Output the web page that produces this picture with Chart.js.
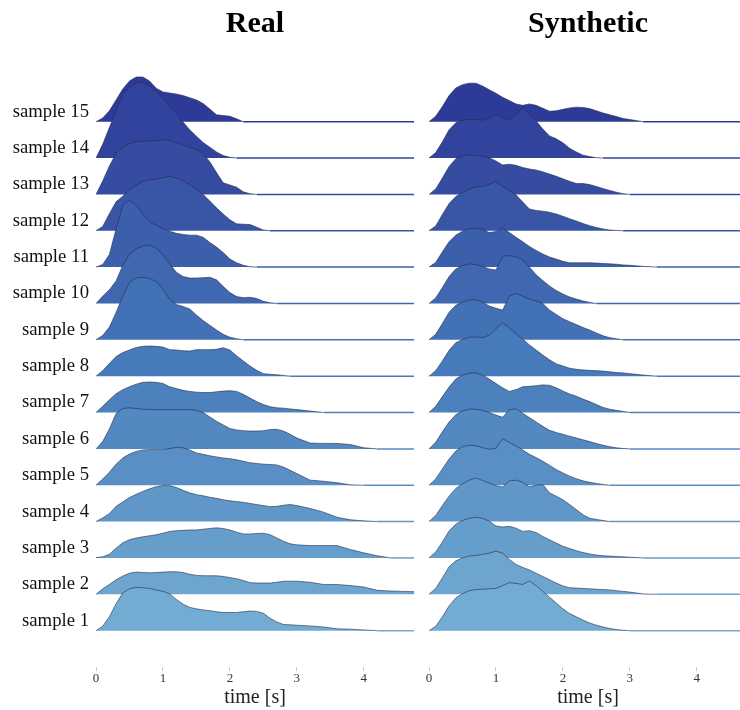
<!DOCTYPE html>
<html>
<head>
<meta charset="utf-8">
<title>Ridgelines</title>
<script src="https://cdn.jsdelivr.net/npm/chart.js@4.4.1/dist/chart.umd.min.js"></script>
<style>
  html, body { margin: 0; padding: 0; background: #fff; overflow: hidden; }
  #wrap { position: relative; width: 740px; height: 710px; overflow: hidden; }
  #realChart { position: absolute; left: 0; top: 0; }
  #synthChart { position: absolute; left: 420px; top: 0; }
</style>
</head>
<body>
<div id="wrap">
  <canvas id="realChart" width="420" height="710"></canvas>
  <canvas id="synthChart" width="327" height="710"></canvas>
</div>
<script>
// time grid shared by every ridge (seconds)
const timeGrid = [0, 0.1, 0.2, 0.3, 0.4, 0.5, 0.6, 0.7, 0.8, 0.9,
  1.0, 1.1, 1.2, 1.3, 1.4, 1.5, 1.6, 1.7, 1.8, 1.9,
  2.0, 2.1, 2.2, 2.3, 2.4, 2.5, 2.6, 2.7, 2.8, 2.9,
  3.0, 3.2, 3.4, 3.6, 3.8, 4.0, 4.2, 4.4, 4.6, 4.8];

const sampleNames = ['sample 1', 'sample 2', 'sample 3', 'sample 4', 'sample 5',
  'sample 6', 'sample 7', 'sample 8', 'sample 9', 'sample 10',
  'sample 11', 'sample 12', 'sample 13', 'sample 14', 'sample 15'];

const xTicks = [0, 1, 2, 3, 4];

// densities, one value per timeGrid point (height in ridge rows)
const real01 = [0, 0.12, 0.38, 0.74, 1.04, 1.15, 1.19, 1.18, 1.16, 1.12, 1.08, 1.01, 0.86, 0.73, 0.64, 0.6, 0.57, 0.55, 0.52, 0.5, 0.5, 0.5, 0.52, 0.54, 0.53, 0.48, 0.34, 0.24, 0.17, 0.16, 0.15, 0.13, 0.1, 0.05, 0.04, 0.02, 0, 0, 0, 0];
const real02 = [0, 0.15, 0.27, 0.4, 0.5, 0.58, 0.61, 0.6, 0.59, 0.6, 0.61, 0.62, 0.62, 0.6, 0.55, 0.52, 0.51, 0.51, 0.51, 0.49, 0.46, 0.43, 0.38, 0.32, 0.31, 0.31, 0.31, 0.33, 0.36, 0.36, 0.36, 0.33, 0.27, 0.27, 0.24, 0.2, 0.11, 0.09, 0.08, 0.07];
const real03 = [0.01, 0.03, 0.1, 0.27, 0.42, 0.5, 0.55, 0.58, 0.61, 0.64, 0.68, 0.73, 0.75, 0.76, 0.77, 0.77, 0.79, 0.81, 0.83, 0.81, 0.77, 0.71, 0.66, 0.66, 0.67, 0.68, 0.64, 0.55, 0.46, 0.39, 0.36, 0.34, 0.34, 0.34, 0.23, 0.14, 0.06, 0, 0, 0];
const real04 = [0, 0.1, 0.22, 0.42, 0.54, 0.66, 0.75, 0.83, 0.9, 0.96, 0.99, 0.99, 0.94, 0.86, 0.79, 0.74, 0.71, 0.67, 0.64, 0.6, 0.57, 0.55, 0.53, 0.5, 0.47, 0.44, 0.41, 0.42, 0.45, 0.47, 0.44, 0.36, 0.26, 0.12, 0.05, 0.02, 0, 0, 0, 0];
const real05 = [0, 0.17, 0.36, 0.58, 0.75, 0.86, 0.93, 0.97, 0.98, 0.98, 0.98, 1.01, 1.04, 1.03, 0.97, 0.89, 0.85, 0.81, 0.78, 0.75, 0.73, 0.7, 0.66, 0.62, 0.6, 0.58, 0.57, 0.56, 0.5, 0.41, 0.32, 0.14, 0.11, 0.07, 0.01, 0, 0, 0, 0, 0];
const real06 = [0, 0.2, 0.55, 0.97, 1.11, 1.13, 1.11, 1.09, 1.08, 1.08, 1.08, 1.08, 1.08, 1.08, 1.08, 1.06, 1.0, 0.88, 0.76, 0.66, 0.56, 0.52, 0.5, 0.49, 0.49, 0.5, 0.53, 0.54, 0.49, 0.4, 0.3, 0.16, 0.15, 0.15, 0.12, 0.03, 0, 0, 0, 0];
const real07 = [0, 0.17, 0.35, 0.52, 0.63, 0.71, 0.78, 0.83, 0.84, 0.83, 0.8, 0.71, 0.66, 0.61, 0.58, 0.56, 0.55, 0.55, 0.57, 0.59, 0.6, 0.58, 0.5, 0.4, 0.3, 0.22, 0.16, 0.13, 0.12, 0.1, 0.08, 0.04, 0, 0, 0, 0, 0, 0, 0, 0];
const real08 = [0, 0.15, 0.35, 0.54, 0.65, 0.72, 0.79, 0.82, 0.83, 0.82, 0.8, 0.73, 0.72, 0.7, 0.69, 0.73, 0.73, 0.73, 0.74, 0.78, 0.72, 0.56, 0.42, 0.28, 0.16, 0.07, 0.05, 0.04, 0.02, 0, 0, 0, 0, 0, 0, 0, 0, 0, 0, 0];
const real09 = [0, 0.12, 0.35, 0.75, 1.2, 1.58, 1.7, 1.72, 1.69, 1.6, 1.4, 1.11, 0.97, 0.92, 0.85, 0.68, 0.53, 0.4, 0.27, 0.15, 0.07, 0.03, 0, 0, 0, 0, 0, 0, 0, 0, 0, 0, 0, 0, 0, 0, 0, 0, 0, 0];
const real10 = [0, 0.2, 0.38, 0.62, 1.05, 1.35, 1.5, 1.58, 1.6, 1.52, 1.33, 1.1, 0.86, 0.74, 0.7, 0.7, 0.71, 0.72, 0.65, 0.47, 0.3, 0.19, 0.16, 0.17, 0.14, 0.06, 0.02, 0, 0, 0, 0, 0, 0, 0, 0, 0, 0, 0, 0, 0];
const real11 = [0, 0.07, 0.35, 1.05, 1.7, 1.84, 1.7, 1.45, 1.25, 1.15, 1.05, 0.99, 0.93, 0.9, 0.88, 0.88, 0.82, 0.68, 0.55, 0.4, 0.22, 0.12, 0.05, 0.01, 0, 0, 0, 0, 0, 0, 0, 0, 0, 0, 0, 0, 0, 0, 0, 0];
const real12 = [0, 0.12, 0.47, 0.8, 0.95, 1.13, 1.25, 1.36, 1.4, 1.42, 1.46, 1.5, 1.45, 1.37, 1.27, 1.15, 1.0, 0.82, 0.63, 0.46, 0.3, 0.19, 0.18, 0.17, 0.1, 0.02, 0, 0, 0, 0, 0, 0, 0, 0, 0, 0, 0, 0, 0, 0];
const real13 = [0, 0.37, 0.78, 1.13, 1.3, 1.4, 1.45, 1.46, 1.47, 1.48, 1.51, 1.48, 1.42, 1.36, 1.3, 1.24, 1.12, 0.9, 0.6, 0.32, 0.26, 0.2, 0.07, 0.02, 0, 0, 0, 0, 0, 0, 0, 0, 0, 0, 0, 0, 0, 0, 0, 0];
const real14 = [0, 0.38, 0.84, 1.3, 1.75, 1.95, 2.06, 2.08, 1.98, 1.84, 1.65, 1.43, 1.22, 0.99, 0.78, 0.6, 0.43, 0.3, 0.17, 0.07, 0.02, 0, 0, 0, 0, 0, 0, 0, 0, 0, 0, 0, 0, 0, 0, 0, 0, 0, 0, 0];
const real15 = [0, 0.1, 0.3, 0.6, 0.9, 1.12, 1.23, 1.23, 1.12, 0.92, 0.82, 0.79, 0.76, 0.72, 0.66, 0.6, 0.5, 0.35, 0.19, 0.17, 0.15, 0.08, 0, 0, 0, 0, 0, 0, 0, 0, 0, 0, 0, 0, 0, 0, 0, 0, 0, 0];

const synth01 = [0, 0.12, 0.38, 0.68, 0.9, 1.02, 1.1, 1.13, 1.14, 1.15, 1.16, 1.24, 1.32, 1.3, 1.27, 1.37, 1.24, 1.08, 0.92, 0.76, 0.6, 0.47, 0.38, 0.29, 0.21, 0.15, 0.1, 0.06, 0.03, 0.01, 0, 0, 0, 0, 0, 0, 0, 0, 0, 0];
const synth02 = [0, 0.16, 0.45, 0.76, 0.92, 1.0, 1.05, 1.07, 1.1, 1.13, 1.19, 1.13, 0.96, 0.82, 0.74, 0.67, 0.58, 0.49, 0.4, 0.31, 0.23, 0.18, 0.17, 0.16, 0.15, 0.14, 0.13, 0.12, 0.1, 0.08, 0.06, 0.01, 0, 0, 0, 0, 0, 0, 0, 0];
const synth03 = [0, 0.16, 0.44, 0.74, 0.93, 1.03, 1.09, 1.12, 1.09, 1.01, 0.88, 0.85, 0.87, 0.82, 0.73, 0.75, 0.7, 0.59, 0.5, 0.41, 0.32, 0.26, 0.2, 0.15, 0.11, 0.08, 0.06, 0.05, 0.04, 0.03, 0.02, 0, 0, 0, 0, 0, 0, 0, 0, 0];
const synth04 = [0, 0.17, 0.44, 0.7, 0.91, 1.04, 1.14, 1.2, 1.13, 1.06, 0.99, 0.95, 1.12, 1.14, 1.08, 0.96, 1.0, 1.02, 0.79, 0.7, 0.6, 0.47, 0.33, 0.19, 0.09, 0.06, 0.03, 0, 0, 0, 0, 0, 0, 0, 0, 0, 0, 0, 0, 0];
const synth05 = [0, 0.17, 0.45, 0.72, 0.94, 1.06, 1.1, 1.09, 1.03, 0.99, 1.02, 1.28, 1.18, 1.08, 0.97, 0.85, 0.76, 0.66, 0.55, 0.43, 0.34, 0.25, 0.18, 0.12, 0.08, 0.05, 0.02, 0, 0, 0, 0, 0, 0, 0, 0, 0, 0, 0, 0, 0];
const synth06 = [0, 0.18, 0.47, 0.74, 0.94, 1.04, 1.09, 1.09, 1.06, 1.0, 0.93, 0.87, 1.08, 1.1, 0.98, 0.86, 0.74, 0.62, 0.51, 0.45, 0.4, 0.35, 0.3, 0.25, 0.2, 0.15, 0.1, 0.06, 0.03, 0.01, 0, 0, 0, 0, 0, 0, 0, 0, 0, 0];
const synth07 = [0, 0.17, 0.44, 0.7, 0.92, 1.03, 1.08, 1.09, 1.03, 0.92, 0.8, 0.68, 0.58, 0.63, 0.71, 0.72, 0.74, 0.76, 0.75, 0.68, 0.59, 0.51, 0.45, 0.37, 0.3, 0.22, 0.14, 0.09, 0.06, 0.03, 0, 0, 0, 0, 0, 0, 0, 0, 0, 0];
const synth08 = [0, 0.15, 0.42, 0.71, 0.92, 1.01, 1.07, 1.08, 1.06, 1.13, 1.3, 1.47, 1.33, 1.17, 1.02, 0.86, 0.72, 0.58, 0.45, 0.34, 0.28, 0.22, 0.19, 0.17, 0.16, 0.15, 0.14, 0.12, 0.1, 0.09, 0.07, 0.03, 0, 0, 0, 0, 0, 0, 0, 0];
const synth09 = [0, 0.15, 0.45, 0.76, 0.95, 1.04, 1.1, 1.1, 1.04, 0.93, 0.87, 0.82, 1.2, 1.28, 1.2, 1.12, 1.07, 1.0, 0.82, 0.7, 0.58, 0.5, 0.42, 0.34, 0.27, 0.19, 0.11, 0.06, 0.03, 0, 0, 0, 0, 0, 0, 0, 0, 0, 0, 0];
const synth10 = [0, 0.15, 0.44, 0.74, 0.95, 1.04, 1.09, 1.07, 1.02, 0.95, 0.92, 1.3, 1.32, 1.28, 1.2, 1.0, 0.79, 0.63, 0.48, 0.36, 0.26, 0.18, 0.12, 0.07, 0.03, 0, 0, 0, 0, 0, 0, 0, 0, 0, 0, 0, 0, 0, 0, 0];
const synth11 = [0, 0.13, 0.42, 0.7, 0.88, 0.99, 1.06, 1.06, 1.04, 0.95, 0.98, 1.07, 0.95, 0.82, 0.7, 0.57, 0.46, 0.36, 0.28, 0.22, 0.16, 0.12, 0.12, 0.12, 0.12, 0.11, 0.1, 0.09, 0.08, 0.06, 0.05, 0.02, 0, 0, 0, 0, 0, 0, 0, 0];
const synth12 = [0, 0.13, 0.45, 0.75, 0.94, 1.05, 1.14, 1.21, 1.21, 1.28, 1.35, 1.22, 1.11, 0.99, 0.79, 0.6, 0.56, 0.54, 0.51, 0.46, 0.4, 0.33, 0.27, 0.2, 0.14, 0.09, 0.05, 0.02, 0.01, 0, 0, 0, 0, 0, 0, 0, 0, 0, 0, 0];
const synth13 = [0, 0.15, 0.45, 0.77, 0.98, 1.06, 1.08, 1.07, 1.05, 1.01, 0.92, 0.81, 0.83, 0.8, 0.74, 0.7, 0.67, 0.62, 0.56, 0.5, 0.43, 0.36, 0.3, 0.3, 0.27, 0.22, 0.16, 0.11, 0.06, 0.02, 0, 0, 0, 0, 0, 0, 0, 0, 0, 0];
const synth14 = [0, 0.15, 0.45, 0.78, 0.97, 1.04, 1.06, 1.06, 1.04, 1.1, 1.19, 1.12, 1.05, 1.16, 1.4, 1.2, 1.02, 0.8, 0.61, 0.53, 0.42, 0.27, 0.17, 0.08, 0.04, 0.01, 0, 0, 0, 0, 0, 0, 0, 0, 0, 0, 0, 0, 0, 0];
const synth15 = [0, 0.15, 0.42, 0.72, 0.93, 1.02, 1.06, 1.06, 0.98, 0.88, 0.78, 0.67, 0.58, 0.49, 0.45, 0.49, 0.45, 0.37, 0.29, 0.3, 0.34, 0.38, 0.4, 0.39, 0.36, 0.3, 0.24, 0.19, 0.14, 0.09, 0.06, 0, 0, 0, 0, 0, 0, 0, 0, 0];

const realSeries = [real01, real02, real03, real04, real05, real06, real07, real08,
  real09, real10, real11, real12, real13, real14, real15];
const synthSeries = [synth01, synth02, synth03, synth04, synth05, synth06, synth07, synth08,
  synth09, synth10, synth11, synth12, synth13, synth14, synth15];

// light blue at the bottom ridge, deep indigo at the top one
const colorStops = [[115, 172, 210], [70, 122, 186], [46, 58, 151]];

function ridgeColor(i) {
  const f = i / (sampleNames.length - 1) * (colorStops.length - 1);
  const k = Math.min(colorStops.length - 2, Math.floor(f));
  const u = f - k;
  const a = colorStops[k], b = colorStops[k + 1];
  const c = a.map((v, j) => Math.round(v + (b[j] - v) * u));
  return `rgb(${c.join(',')})`;
}

const SERIF = "'Liberation Serif', 'Times New Roman', serif";
const OUTLINE = 'rgba(35, 45, 75, 0.6)';

function makeChart(canvasId, series, titleText, showLabels, padding) {
  // dataset 0 (sample 1) is drawn last, so lower ridges overlap upper ones
  const datasets = series.map((vals, i) => {
    const color = ridgeColor(i);
    const onBase = ctx => ctx.p0.parsed.y === i && ctx.p1.parsed.y === i;
    return {
      label: sampleNames[i],
      data: timeGrid.map((t, k) => ({ x: t, y: i + vals[k] })),
      fill: { value: i },
      backgroundColor: color,
      borderColor: OUTLINE,
      borderWidth: 1,
      pointRadius: 0,
      tension: 0,
      segment: {
        borderColor: ctx => onBase(ctx) ? color : undefined,
        borderWidth: ctx => onBase(ctx) ? 1.5 : undefined
      }
    };
  });

  return new Chart(document.getElementById(canvasId), {
    type: 'line',
    data: { datasets },
    options: {
      responsive: false,
      animation: false,
      devicePixelRatio: 1,
      layout: { padding },
      plugins: {
        legend: { display: false },
        tooltip: { enabled: false },
        title: {
          display: true,
          text: titleText,
          fullSize: false,
          color: '#000',
          font: { family: SERIF, size: 30, weight: 'bold' },
          padding: { top: 6, bottom: 7 }
        }
      },
      scales: {
        x: {
          type: 'linear',
          min: 0,
          max: 4.75,
          afterFit: scale => { scale.height = 43; },
          afterBuildTicks: scale => { scale.ticks = xTicks.map(v => ({ value: v })); },
          grid: { display: true, drawOnChartArea: false, drawTicks: true, tickLength: 4, color: '#c8c8c8' },
          border: { display: false },
          ticks: { font: { family: SERIF, size: 13 }, color: '#333', padding: 0 },
          title: {
            display: true,
            text: 'time [s]',
            color: '#222',
            font: { family: SERIF, size: 20 },
            padding: { top: 0, bottom: 0 }
          }
        },
        y: {
          type: 'linear',
          display: showLabels,
          min: -1,
          max: 16,
          // the label column only exists on the left panel
          afterFit: scale => { scale.width = showLabels ? 96 : 0; },
          afterBuildTicks: scale => { scale.ticks = sampleNames.map((_, i) => ({ value: i })); },
          grid: { display: false, drawTicks: false },
          border: { display: false },
          ticks: {
            autoSkip: false,
            callback: v => sampleNames[v],
            font: { family: SERIF, size: 18.7 },
            color: '#111',
            padding: 7,
            labelOffset: -10
          }
        }
      }
    }
  });
}

makeChart('realChart', realSeries, 'Real', true, { left: 0, right: 6, top: 0, bottom: 0 });
makeChart('synthChart', synthSeries, 'Synthetic', false, { left: 9, right: 0, top: 0, bottom: 0 });
</script>
</body>
</html>
